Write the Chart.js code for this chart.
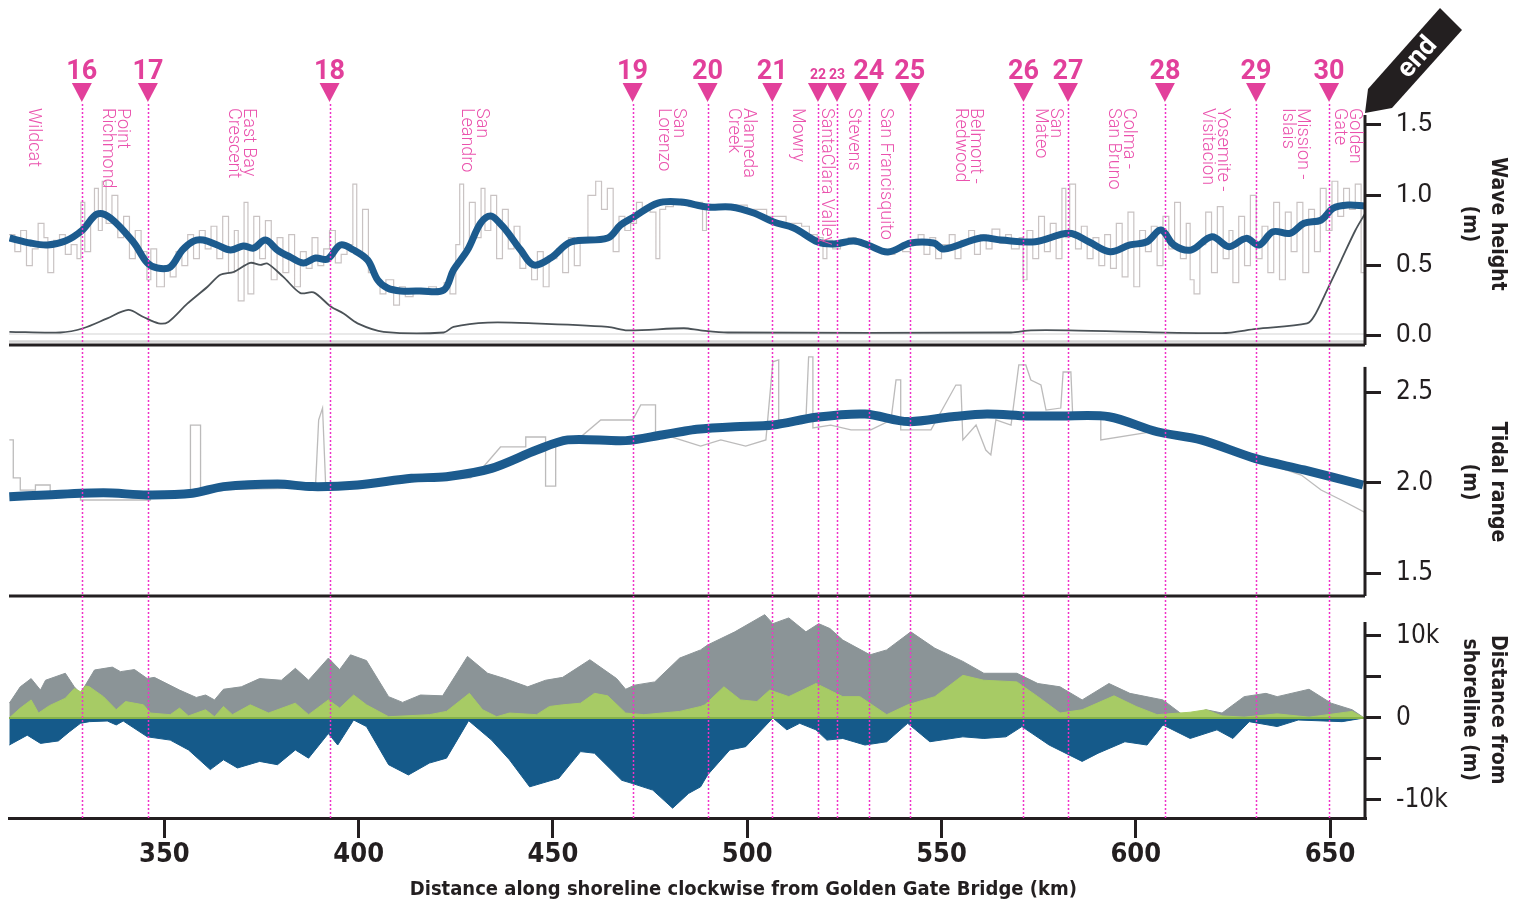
<!DOCTYPE html>
<html>
<head>
<meta charset="utf-8">
<title>Shoreline profile</title>
<script src="https://cdn.jsdelivr.net/npm/chart.js@4.4.1/dist/chart.umd.min.js"></script>
<style>
  html, body { margin: 0; padding: 0; background: #fff; }
  #wrap { position: relative; width: 1530px; height: 909px; }
  #wrap canvas { position: absolute; left: 0; top: 0; }
</style>
</head>
<body>
<div id="wrap">
  <canvas id="distChart" width="1530" height="909"></canvas>
  <canvas id="tideChart" width="1530" height="909"></canvas>
  <canvas id="waveChart" width="1530" height="909"></canvas>
</div>
<script>
/* ================= DATA ================= */
const xTicks = [350, 400, 450, 500, 550, 600, 650];
const xTitle = "Distance along shoreline clockwise from Golden Gate Bridge (km)";

/* segment boundaries (km) and their numbers */
const segmentIds = ["16","17","18","19","20","21","22","23","24","25","26","27","28","29","30"];
const segmentKm = [328.75, 345.75, 392.5, 470.5, 489.8, 506.45, 518.2, 523.1, 531.3, 541.85, 571.1, 582.55, 607.5, 630.95, 649.75];

const placeNames = [["Wildcat"], ["Point", "Richmond"], ["East Bay", "Crescent"], ["San", "Leandro"],
  ["San", "Lorenzo"], ["Alameda", "Creek"], ["Mowry"], ["SantaClara Valley"], ["Stevens"],
  ["San Francisquito"], ["Belmont -", "Redwood"], ["San", "Mateo"], ["Colma -", "San Bruno"],
  ["Yosemite -", "Visitacion"], ["Mission -", "Islais"], ["Golden", "Gate"]];
const placeKm = [316.3, 337.25, 369.6, 429.8, 480.3, 498.3, 513.0, 520.5, 527.4, 535.7, 556.8, 577.4, 596.2, 620.4, 641.0, 654.4];

/* wave height (m) */
const waveTicks = [0, 0.5, 1.0, 1.5];
const waveTickLabels = ["0.0", "0.5", "1.0", "1.5"];
const waveKm = [310.16, 315.5, 319.9, 324.5, 328.9, 332.7, 336.1, 342.0, 345.6, 348.2, 351.5, 354.6, 357.5, 360.0,
  363.6, 367.0, 370.3, 372.9, 376.0, 379.1, 382.4, 385.8, 388.9, 392.0, 395.3, 398.7, 402.3, 404.9, 407.4, 410.8,
  415.9, 421.9, 424.4, 428.0, 431.4, 434.0, 436.5, 438.3, 441.7, 445.0, 449.4, 454.6, 464.1, 467.4, 470.8, 477.0,
  482.9, 489.8, 495.8, 501.7, 506.8, 512.0, 518.2, 522.3, 527.4, 531.0, 536.2, 542.1, 548.0, 550.6, 560.1, 565.3,
  574.1, 582.8, 587.9, 593.4, 598.5, 602.9, 606.5, 609.8, 614.2, 619.6, 624.0, 628.4, 631.7, 635.3, 639.7, 643.3,
  647.7, 650.8, 654.7, 659.0];
const waveSmooth = [0.697, 0.661, 0.647, 0.675, 0.753, 0.867, 0.839, 0.668, 0.519, 0.483, 0.490, 0.611, 0.675, 0.682,
  0.647, 0.611, 0.640, 0.625, 0.682, 0.611, 0.561, 0.519, 0.554, 0.547, 0.647, 0.611, 0.540, 0.398, 0.341, 0.320,
  0.320, 0.327, 0.469, 0.611, 0.803, 0.853, 0.796, 0.739, 0.611, 0.505, 0.554, 0.668, 0.697, 0.789, 0.846, 0.945,
  0.952, 0.917, 0.917, 0.874, 0.810, 0.768, 0.668, 0.654, 0.675, 0.647, 0.597, 0.661, 0.661, 0.618, 0.697, 0.682,
  0.670, 0.730, 0.670, 0.599, 0.647, 0.670, 0.753, 0.647, 0.611, 0.706, 0.635, 0.694, 0.647, 0.741, 0.730, 0.801,
  0.824, 0.908, 0.931, 0.924];

const nearKm = [310.1, 323.2, 329.1, 335.3, 340.7, 344.6, 348.5, 351.0, 355.9, 361.1, 364.4, 367.8, 372.1, 374.7,
  376.5, 380.6, 385.0, 388.4, 392.8, 396.1, 399.7, 406.4, 421.9, 424.4, 433.2, 445.0, 464.1, 469.2, 483.7, 488.0,
  495.0, 567.9, 573.0, 582.8, 622.2, 631.0, 644.1, 645.9, 649.3, 652.9, 656.5, 659.0];
const nearWave = [0.03, 0.025, 0.055, 0.125, 0.185, 0.135, 0.09, 0.10, 0.23, 0.35, 0.435, 0.455, 0.52, 0.505,
  0.515, 0.42, 0.305, 0.31, 0.21, 0.16, 0.09, 0.03, 0.025, 0.065, 0.095, 0.09, 0.065, 0.04, 0.055, 0.04,
  0.025, 0.025, 0.04, 0.04, 0.02, 0.05, 0.09, 0.14, 0.33, 0.54, 0.75, 0.87];

const rawWaveKm = [
  310, 311.5, 313, 314.5, 316, 317.5, 319, 320, 321.5, 323,
  324.5, 326, 327.5, 328.5, 329.5, 331, 332, 333, 334, 335,
  336.5, 338, 339.5, 341, 342.5, 344, 345.5, 346.5, 348, 350,
  351.5, 353, 354.5, 356, 357.5, 359, 360.5, 362, 363.5, 365,
  366.5, 368, 369, 370.5, 371.5, 373, 374.5, 376, 377.5, 379,
  380.5, 382, 383.5, 385, 386.5, 388, 389.5, 391, 392.5, 394,
  395.5, 397, 398.5, 399.5, 401, 402.5, 404, 405.5, 407, 409,
  410.5, 412, 414, 416, 418, 420, 422, 423.5, 425, 426,
  427, 428.5, 430, 431.5, 432.5, 434, 435.5, 437, 438.5, 440,
  441.5, 443, 444.5, 446, 447.5, 449, 451, 452.5, 454, 455.5,
  457, 459, 461, 462.5, 464, 465.5, 467, 468.5, 470, 471.5,
  473, 475, 476.5, 477.5, 479, 481, 483, 485, 487, 488.5,
  489.5, 492, 495, 500, 505, 510, 514, 516, 518, 519.5,
  520.5, 522, 524, 526, 528, 530, 532, 534, 536, 538,
  540, 542, 544, 545.5, 547, 548.5, 550, 552, 553.5, 555,
  557, 558.5, 560, 561.5, 563, 565, 566.5, 568, 570, 571,
  572, 573.5, 575, 576.5, 578, 579.5, 581, 582, 583, 584.5,
  586, 587.5, 589, 590.5, 592, 593.5, 595, 596.5, 598, 599.5,
  601, 602.5, 604, 605.5, 607, 608.5, 610, 611.5, 613, 614,
  615, 616.5, 618, 619.5, 621, 622.5, 624, 625, 626.5, 628,
  629.5, 631, 632.5, 634, 635.5, 637, 638.5, 640, 641.5, 643,
  644.5, 646, 647.5, 649, 650.5, 652, 653.5, 655, 656.5, 658,
  659];
const rawWave = [
  0.72, 0.60, 0.75, 0.50, 0.62, 0.80, 0.70, 0.45, 0.68, 0.72,
  0.58, 0.65, 0.55, 0.95, 0.60, 0.85, 1.05, 0.75, 1.10, 0.80,
  1.00, 0.70, 0.85, 0.55, 0.75, 0.60, 0.40, 0.62, 0.35, 0.50,
  0.42, 0.60, 0.50, 0.72, 0.55, 0.75, 0.62, 0.78, 0.55, 0.85,
  0.45, 0.75, 0.25, 0.95, 0.30, 0.85, 0.55, 0.82, 0.40, 0.70,
  0.45, 0.72, 0.35, 0.60, 0.48, 0.70, 0.50, 0.62, 0.75, 0.52,
  0.58, 0.65, 1.08, 0.60, 0.90, 0.45, 0.40, 0.30, 0.40, 0.22,
  0.35, 0.28, 0.33, 0.30, 0.35, 0.32, 0.38, 0.30, 0.65, 1.08,
  0.62, 0.95, 0.70, 1.05, 0.75, 1.00, 0.55, 0.90, 0.62, 0.78,
  0.48, 0.52, 0.40, 0.60, 0.35, 0.55, 0.62, 0.45, 0.70, 0.50,
  0.68, 1.00, 1.10, 0.90, 1.05, 0.60, 0.85, 0.75, 0.80, 0.95,
  0.90, 0.88, 0.55, 0.90, 0.92, 0.95, 0.93, 0.92, 0.95, 0.75,
  0.93, 0.92, 0.93, 0.90, 0.85, 0.80, 0.78, 0.72, 0.70, 0.55,
  0.68, 0.62, 0.68, 0.70, 0.66, 0.64, 0.63, 0.60, 0.58, 0.62,
  0.60, 0.65, 0.72, 0.58, 0.70, 0.55, 0.65, 0.72, 0.55, 0.68,
  0.75, 0.58, 0.72, 0.62, 0.76, 0.66, 0.72, 0.62, 0.70, 0.40,
  0.75, 0.55, 0.85, 0.60, 0.80, 0.55, 1.05, 0.70, 1.08, 0.62,
  0.78, 0.55, 0.70, 0.50, 0.72, 0.48, 0.80, 0.42, 0.88, 0.35,
  0.75, 0.60, 0.78, 0.50, 0.85, 0.62, 0.95, 0.55, 0.80, 0.40,
  0.30, 0.65, 0.88, 0.45, 0.92, 0.55, 0.75, 0.38, 0.85, 0.50,
  1.00, 0.55, 0.78, 0.45, 0.95, 0.40, 0.88, 0.60, 0.95, 0.45,
  0.90, 0.60, 1.05, 0.75, 1.10, 0.85, 1.05, 0.90, 1.08, 0.45,
  0.95];

/* tidal range (m) */
const tideTicks = [1.5, 2.0, 2.5];
const tideTickLabels = ["1.5", "2.0", "2.5"];
const tideKm = [310.08, 319.4, 334.3, 345.6, 357.2, 365.2, 379.1, 388.1, 399.7, 413.6, 422.6, 434.2, 445.8, 453.8,
  468.7, 478.0, 482.9, 487.0, 496.8, 506.6, 517.7, 530.3, 541.4, 552.7, 561.7, 572.0, 580.5, 593.1, 605.5, 616.8,
  630.7, 643.3, 658.5];
const tideSmooth = [1.924, 1.934, 1.946, 1.934, 1.943, 1.980, 1.994, 1.980, 1.989, 2.026, 2.035, 2.081, 2.182, 2.238,
  2.234, 2.265, 2.283, 2.297, 2.311, 2.320, 2.363, 2.381, 2.339, 2.366, 2.381, 2.370, 2.370, 2.366, 2.283, 2.238,
  2.136, 2.072, 1.989];
const rawTideKm = [310.08, 311.1, 311.1, 312.9, 312.9, 316.8, 316.8, 320.6, 320.6, 328.4, 328.4, 346.4, 346.4, 356.7,
  356.7, 359.3, 359.3, 385.0, 388.9, 389.7, 390.7, 391.5, 400.5, 410.8, 421.1, 428.8, 431.4, 436.5, 443.0, 443.0,
  448.1, 448.1, 450.7, 450.7, 457.1, 462.3, 470.5, 472.6, 476.4, 476.4, 482.9, 488.0, 493.2, 499.6, 504.8, 506.6,
  508.1, 508.1, 515.1, 515.8, 516.9, 516.9, 521.5, 526.7, 531.8, 537.0, 538.3, 539.5, 539.5, 547.3, 553.7, 555.0,
  555.5, 558.9, 561.4, 562.7, 564.0, 567.9, 569.9, 571.7, 573.0, 575.6, 576.9, 580.7, 581.3, 583.3, 583.8, 591.0,
  591.0, 603.9, 616.8, 629.7, 642.6, 647.7, 652.9, 659.3];
const rawTide = [2.238, 2.238, 2.028, 2.028, 1.961, 1.961, 1.989, 1.989, 1.950, 1.950, 1.906, 1.906, 1.923, 1.923,
  2.320, 2.320, 1.961, 1.972, 1.989, 2.348, 2.414, 1.989, 1.983, 2.017, 2.028, 2.028, 2.072, 2.199, 2.199, 2.254,
  2.254, 1.983, 1.983, 2.238, 2.254, 2.348, 2.348, 2.431, 2.431, 2.282, 2.238, 2.204, 2.238, 2.204, 2.238, 2.669,
  2.680, 2.348, 2.348, 2.696, 2.696, 2.304, 2.320, 2.293, 2.293, 2.348, 2.569, 2.569, 2.293, 2.293, 2.541, 2.541,
  2.238, 2.320, 2.182, 2.155, 2.348, 2.320, 2.652, 2.652, 2.569, 2.541, 2.403, 2.414, 2.613, 2.613, 2.359, 2.359,
  2.238, 2.282, 2.227, 2.138, 2.044, 1.961, 1.906, 1.834];

/* distance from shoreline (m) */
const distTicks = [-10000, -5000, 0, 5000, 10000];
const distTickLabels = ["-10k", "", "0", "", "10k"];
const bayKm = [310.08, 312.9, 315.7, 318.1, 319.4, 324.5, 326.8, 328.4, 332.0, 336.6, 338.7, 342.3, 345.6, 347.4,
  353.9, 358.2, 360.6, 362.9, 365.2, 369.8, 374.5, 380.1, 383.7, 387.1, 392.2, 395.1, 397.9, 402.0, 407.7, 411.3,
  415.9, 421.6, 428.0, 433.2, 437.6, 443.5, 448.1, 452.5, 459.5, 466.4, 468.7, 471.0, 476.2, 482.6, 488.0, 489.8,
  496.8, 504.5, 506.6, 510.7, 515.1, 518.4, 521.3, 524.6, 531.6, 535.9, 542.1, 548.3, 555.5, 560.9, 569.4, 574.8,
  580.5, 586.2, 593.1, 598.5, 607.0, 612.7, 618.1, 622.2, 627.9, 633.5, 636.4, 644.6, 650.3, 655.7, 658.8];
const bayDist = [1800, 3800, 4800, 3400, 4600, 5450, 3800, 3000, 5850, 6200, 5650, 5900, 4800, 4950,
  3400, 2500, 2800, 2200, 3500, 3800, 4800, 4600, 6050, 4600, 7300, 5900, 7700, 7000, 2600, 1900,
  2800, 2700, 7500, 5450, 4800, 3800, 4600, 4950, 7100, 4800, 3500, 4000, 4400, 7300, 8300, 8900,
  10500, 12600, 11500, 12200, 10500, 11500, 10900, 9500, 7700, 8300, 10500, 8500, 6900, 5450, 5450, 4200,
  3800, 2200, 4200, 3000, 2200, 150, 1000, 600, 2600, 3000, 2600, 3500, 1800, 1000, 0];
const marshKm = [310.08, 312.9, 315.7, 317.6, 320.4, 324.5, 326.8, 328.4, 329.7, 330.7, 334.3, 337.6, 340.0, 344.6,
  346.4, 351.5, 353.9, 356.2, 360.6, 362.9, 365.2, 367.5, 372.1, 376.8, 383.7, 387.1, 392.2, 395.1, 398.7, 402.0,
  407.7, 418.2, 422.6, 428.5, 431.9, 435.5, 438.8, 445.8, 449.1, 452.5, 457.1, 460.7, 464.1, 468.7, 473.4, 482.6,
  488.0, 489.1, 494.0, 498.3, 502.5, 505.8, 510.7, 517.7, 524.6, 529.0, 535.9, 541.3, 548.3, 555.5, 560.9, 569.4,
  574.8, 580.5, 586.2, 594.4, 600.1, 605.5, 614.0, 618.1, 622.2, 627.9, 636.4, 644.6, 655.7, 658.8];
const marshDist = [0, 1200, 2200, 600, 1500, 2400, 3600, 3200, 3900, 3800, 2600, 1000, 2000, 1600,
  600, 400, 1200, 250, 1000, 150, 1400, 400, 1600, 600, 1800, 400, 2200, 1200, 2800, 1600,
  150, 400, 800, 3000, 1000, 150, 600, 400, 1400, 1600, 1800, 3000, 2700, 600, 400, 800,
  1400, 1600, 3800, 2200, 2000, 3400, 2600, 4200, 2600, 2600, 400, 1600, 2600, 5200, 4600, 4400,
  2600, 600, 1000, 2700, 1400, 400, 700, 1000, 250, 100, 500, 100, 800, 0];
const landKm = [310.08, 314.7, 318.1, 322.7, 325.5, 328.4, 330.7, 335.3, 337.6, 339.4, 345.6, 351.5, 356.2, 361.8,
  365.2, 368.8, 374.5, 379.1, 383.7, 387.1, 392.2, 394.6, 398.7, 402.0, 407.7, 412.8, 418.2, 422.6, 428.3, 434.2,
  438.8, 444.0, 451.5, 457.1, 460.7, 467.7, 470.5, 475.7, 480.8, 484.9, 488.0, 489.8, 495.5, 499.6, 506.6, 510.2,
  513.5, 517.7, 520.5, 524.6, 530.3, 535.9, 541.3, 547.0, 555.5, 560.9, 566.6, 570.7, 577.7, 586.2, 590.3, 597.2,
  602.9, 607.0, 614.0, 620.9, 625.0, 629.2, 636.4, 641.8, 653.1, 658.8];
const landDist = [-3300, -2100, -3100, -2800, -1700, -650, -450, -370, -850, -370, -2300, -2700, -3900, -6300,
  -5100, -6100, -5300, -5700, -3900, -4900, -1900, -3300, -250, -1050, -5700, -6950, -5500, -4900, -330, -2700,
  -5100, -8400, -7350, -4100, -4300, -7600, -8000, -8800, -11000, -9200, -8400, -6950, -3900, -3500, 0, -1450,
  -650, -1450, -2700, -2500, -3300, -2900, -650, -2900, -2300, -2500, -2300, -1050, -3300, -5300, -4300, -2900,
  -3300, -850, -2500, -1450, -2500, -450, -1050, -250, -450, 0];

/* ================= STYLE / LAYOUT ================= */
const W = 1530, H = 909;
const LEFT = 9, AXIS_W = 165;
const X_MIN = 310, X_MAX = 659;
const WAVE_AREA = { top: 115, bottom: 345 };
const TIDE_AREA = { top: 347, bottom: 596 };
const DIST_AREA = { top: 598, bottom: 818 };

const INK = "#231f20";
const BLUE = "#1c5b8e";
const PINK = "#e2409b";
const PINK_TEXT = "#ea52ad";
const PINK_LINE = "#f032c8";
const NARROW = "'Liberation Sans Narrow', 'DejaVu Sans Condensed', 'Roboto Condensed', sans-serif";

Chart.defaults.font.family = "Roboto";

const pts = (xs, ys) => xs.map((x, i) => ({ x: x, y: ys[i] }));

function xAxis(show) {
    const axis = {
        type: "linear", min: X_MIN, max: X_MAX, display: show,
        afterBuildTicks: s => { s.ticks = xTicks.map(v => ({ value: v })); },
        border: { display: true, color: INK, width: 3 },
        grid: { drawOnChartArea: false, drawTicks: true, tickLength: 20, color: INK, lineWidth: 3 },
        ticks: { font: { family: NARROW, size: 27, weight: "bold" }, color: INK, padding: 1, maxRotation: 0 }
    };
    if (show) axis.afterFit = s => { s.height = H - DIST_AREA.bottom; };
    return axis;
}

function yAxis(min, max, ticks, labels, font) {
    return {
        type: "linear", position: "right", min: min, max: max,
        afterBuildTicks: s => { s.ticks = ticks.map(v => ({ value: v })); },
        afterFit: s => { s.width = AXIS_W; },
        border: { display: false },
        grid: { drawOnChartArea: false, drawTicks: true, tickLength: 16, color: INK, lineWidth: 3 },
        ticks: { callback: (v, i) => labels[i], font: font, color: INK, padding: 15, autoSkip: false }
    };
}

/* panel frame: bottom rule, right axis line, rotated title, guide lines */
function frame(o) {
    const hline = (chart, g) => {
        const { ctx, chartArea: a } = chart;
        const py = chart.scales.y.getPixelForValue(g.value);
        ctx.save();
        ctx.strokeStyle = g.color;
        ctx.lineWidth = g.width;
        ctx.beginPath();
        ctx.moveTo(a.left, py);
        ctx.lineTo(a.right, py);
        ctx.stroke();
        ctx.restore();
    };
    return {
        id: "frame",
        beforeDatasetsDraw(chart) { (o.under || []).forEach(g => hline(chart, g)); },
        afterDatasetsDraw(chart) { (o.over || []).forEach(g => hline(chart, g)); },
        afterDraw(chart) {
            const { ctx, chartArea: a } = chart;
            const y = chart.scales.y;
            ctx.save();
            ctx.strokeStyle = INK;
            ctx.lineWidth = 3;
            if (o.bottomRule) {
                ctx.beginPath();
                ctx.moveTo(a.left, a.bottom);
                ctx.lineTo(a.right, a.bottom);
                ctx.stroke();
            }
            ctx.beginPath();
            ctx.moveTo(a.right, y.getPixelForValue(o.axisTop));
            ctx.lineTo(a.right, a.bottom);
            ctx.stroke();

            ctx.translate(a.right + 118, y.getPixelForValue(o.titleAt));
            ctx.rotate(Math.PI / 2);
            ctx.font = "bold 21px " + NARROW;
            ctx.fillStyle = INK;
            ctx.textAlign = "center";
            ctx.textBaseline = "middle";
            const n = o.title.length;
            o.title.forEach((t, j) => ctx.fillText(t, 0, (j - (n - 1) / 2) * 28));
            ctx.restore();
        }
    };
}

/* segment markers, dotted boundaries, place names, end tag */
const markers = {
    id: "markers",
    afterDatasetsDraw(chart) {
        const { ctx } = chart;
        const x = chart.scales.x;
        ctx.save();
        ctx.strokeStyle = PINK_LINE;
        ctx.lineWidth = 1.5;
        ctx.setLineDash([2, 2]);
        segmentKm.forEach(km => {
            const px = Math.round(x.getPixelForValue(km)) + 0.5;
            ctx.beginPath();
            ctx.moveTo(px, 104);
            ctx.lineTo(px, DIST_AREA.bottom);
            ctx.stroke();
        });
        ctx.restore();
    },
    afterDraw(chart) {
        const { ctx, chartArea: a } = chart;
        const x = chart.scales.x;

        // triangles + numbers
        ctx.save();
        segmentKm.forEach((km, i) => {
            const px = x.getPixelForValue(km);
            ctx.fillStyle = PINK;
            ctx.beginPath();
            ctx.moveTo(px - 10, 83);
            ctx.lineTo(px + 10, 83);
            ctx.lineTo(px, 102);
            ctx.closePath();
            ctx.fill();
            const small = segmentIds[i] === "22" || segmentIds[i] === "23";
            ctx.font = small ? "bold 14px Roboto" : "bold 27px Roboto";
            ctx.textAlign = "center";
            ctx.textBaseline = "alphabetic";
            ctx.fillText(segmentIds[i], px, 78.5);
        });
        ctx.restore();

        // place names, rotated
        placeNames.forEach((lines, i) => {
            const px = x.getPixelForValue(placeKm[i]);
            ctx.save();
            ctx.translate(px, 108);
            ctx.rotate(Math.PI / 2);
            ctx.font = "300 18px Roboto";
            ctx.fillStyle = PINK_TEXT;
            ctx.textAlign = "left";
            ctx.textBaseline = "middle";
            const n = lines.length;
            lines.forEach((t, j) => ctx.fillText(t, 0, (j - (n - 1) / 2) * 15));
            ctx.restore();
        });

        // "end" tag
        const r = a.right, t = a.top;
        ctx.save();
        ctx.fillStyle = INK;
        ctx.beginPath();
        ctx.moveTo(r, t - 2);
        ctx.lineTo(r + 3, t - 26);
        ctx.lineTo(r + 75, t - 107);
        ctx.lineTo(r + 97, t - 85);
        ctx.lineTo(r + 27, t - 7);
        ctx.closePath();
        ctx.fill();
        ctx.translate(r + 53, t - 57);
        ctx.rotate(-0.84);
        ctx.fillStyle = "#fff";
        ctx.font = "bold 27px Roboto";
        ctx.textAlign = "center";
        ctx.textBaseline = "middle";
        ctx.fillText("end", 0, 0);
        ctx.restore();
    }
};

const xTitlePlugin = {
    id: "xTitle",
    afterDraw(chart) {
        const { ctx, chartArea: a } = chart;
        ctx.save();
        ctx.font = "bold 20px " + NARROW;
        ctx.fillStyle = INK;
        ctx.textAlign = "center";
        ctx.textBaseline = "middle";
        ctx.fillText(xTitle, chart.scales.x.getPixelForValue(499), a.bottom + 72);
        ctx.restore();
    }
};

const common = (area, extraBottom) => ({
    responsive: false,
    animation: false,
    devicePixelRatio: 1,
    events: [],
    layout: { padding: { left: LEFT, right: 0, top: area.top, bottom: extraBottom } },
    elements: { point: { radius: 0 }, line: { fill: false } },
    plugins: { legend: { display: false }, tooltip: { enabled: false } }
});

/* ================= DISTANCE PANEL ================= */
new Chart(document.getElementById("distChart"), {
    type: "line",
    data: {
        datasets: [
            { data: pts(marshKm, marshDist), fill: "origin", backgroundColor: "#a7cb65", borderColor: "#a7cb65", borderWidth: 1, tension: 0, order: 0 },
            { data: pts(landKm, landDist), fill: "origin", backgroundColor: "#155a8a", borderColor: "#155a8a", borderWidth: 1, tension: 0, order: 1 },
            { data: pts(bayKm, bayDist), fill: "origin", backgroundColor: "#8b9497", borderColor: "#8b9497", borderWidth: 1, tension: 0, order: 2 }
        ]
    },
    options: Object.assign(common(DIST_AREA, 0), {
        scales: {
            x: xAxis(true),
            y: yAxis(-12200, 14630, distTicks, distTickLabels, { family: NARROW, size: 26 })
        }
    }),
    plugins: [frame({
        axisTop: 11700, titleAt: 1000, title: ["Distance from", "shoreline (m)"], bottomRule: false,
        over: [{ value: 0, color: "#86b34a", width: 2 }]
    }), xTitlePlugin]
});

/* ================= TIDAL RANGE PANEL ================= */
new Chart(document.getElementById("tideChart"), {
    type: "line",
    data: {
        datasets: [
            { data: pts(tideKm, tideSmooth), borderColor: BLUE, borderWidth: 9, tension: 0.3, order: 0 },
            { data: pts(rawTideKm, rawTide), borderColor: "rgba(160,158,158,0.7)", borderWidth: 1.3, tension: 0, order: 1 }
        ]
    },
    options: Object.assign(common(TIDE_AREA, H - TIDE_AREA.bottom), {
        scales: {
            x: xAxis(false),
            y: yAxis(1.376, 2.751, tideTicks, tideTickLabels, { family: NARROW, size: 26 })
        }
    }),
    plugins: [frame({ axisTop: 2.641, titleAt: 2.005, title: ["Tidal range", "(m)"], bottomRule: true })]
});

/* ================= WAVE HEIGHT PANEL ================= */
new Chart(document.getElementById("waveChart"), {
    type: "line",
    data: {
        datasets: [
            { data: pts(waveKm, waveSmooth), borderColor: BLUE, borderWidth: 7, tension: 0.35, order: 0 },
            { data: pts(nearKm, nearWave), borderColor: "#4b5257", borderWidth: 1.8, tension: 0.3, order: 1 },
            { data: pts(rawWaveKm, rawWave), borderColor: "rgba(165,155,155,0.6)", borderWidth: 1.2, stepped: "before", order: 2 }
        ]
    },
    options: Object.assign(common(WAVE_AREA, H - WAVE_AREA.bottom), {
        scales: {
            x: xAxis(false),
            y: yAxis(-0.064, 1.571, waveTicks, waveTickLabels, { family: "Roboto", size: 26 })
        }
    }),
    plugins: [frame({
        axisTop: 1.571, titleAt: 0.796, title: ["Wave height", "(m)"], bottomRule: true,
        under: [{ value: 0.014, color: "#e2e2e2", width: 1.5 }, { value: -0.039, color: "#d4d4d4", width: 2.5 }]
    }), markers]
});
</script>
</body>
</html>
